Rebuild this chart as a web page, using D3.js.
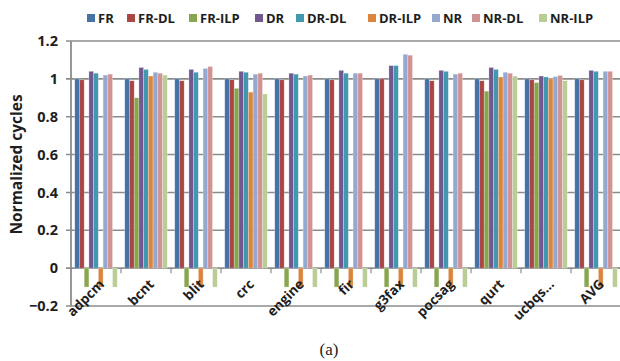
<!DOCTYPE html>
<html lang="en">
<head>
  <meta charset="UTF-8">
  <title>Normalized cycles</title>
  <script src="https://d3js.org/d3.v7.min.js"></script>
  <style>
    html, body { margin: 0; padding: 0; background: #fff; }
    svg { display: block; }
    .lbl { font-family: "Open Sans", Lato, sans-serif; font-weight: bold; fill: #1e1e1e; }
    .grid line { stroke: #8c8c8c; stroke-width: 1.6; }
  </style>
</head>
<body>
  <svg id="chart" width="620" height="361"></svg>
  <script>
    // ---- data ----
    const categories = ["adpcm", "bcnt", "blit", "crc", "engine", "fir", "g3fax", "pocsag", "qurt", "ucbqs...", "AVG"];
    const seriesNames = ["FR", "FR-DL", "FR-ILP", "DR", "DR-DL", "DR-ILP", "NR", "NR-DL", "NR-ILP"];
    const colors = ["#4572a7", "#aa4643", "#89a54e", "#71588f", "#4198af", "#db843d", "#93a9cf", "#d19392", "#b9cd96"];

    const FR     = [1.0, 1.0, 1.0, 1.0, 1.0, 1.0, 1.0, 1.0, 1.0, 1.0, 1.0];
    const FR_DL  = [0.995, 0.99, 0.99, 0.995, 0.995, 0.995, 1.0, 0.99, 0.99, 0.995, 0.995];
    const FR_ILP = [-0.1, 0.90, -0.1, 0.95, -0.1, -0.1, -0.1, -0.1, 0.935, 0.98, -0.1];
    const DR     = [1.04, 1.06, 1.05, 1.04, 1.03, 1.045, 1.07, 1.045, 1.06, 1.015, 1.045];
    const DR_DL  = [1.03, 1.05, 1.035, 1.035, 1.025, 1.03, 1.07, 1.04, 1.05, 1.01, 1.04];
    const DR_ILP = [-0.1, 1.015, -0.1, 0.93, -0.1, -0.1, -0.1, -0.1, 1.01, 1.0, -0.1];
    const NR     = [1.02, 1.035, 1.055, 1.025, 1.015, 1.03, 1.13, 1.025, 1.035, 1.012, 1.04];
    const NR_DL  = [1.025, 1.03, 1.065, 1.03, 1.02, 1.03, 1.125, 1.03, 1.03, 1.018, 1.04];
    const NR_ILP = [-0.1, 1.02, -0.1, 0.92, -0.1, -0.1, -0.1, -0.1, 1.015, 0.99, -0.1];

    const seriesValues = [FR, FR_DL, FR_ILP, DR, DR_DL, DR_ILP, NR, NR_DL, NR_ILP];
    const yTicks = [-0.2, 0, 0.2, 0.4, 0.6, 0.8, 1, 1.2];

    // ---- scales ----
    const plot = { left: 71, right: 621, top: 41, bottom: 306 };
    const svg = d3.select("#chart");

    const x0 = d3.scaleBand().domain(categories)
      .range([plot.left, plot.right]).paddingInner(0.15).paddingOuter(0.075);
    const xCat = d3.scaleBand().domain(categories).range([plot.left, plot.right]);
    const x1 = d3.scaleBand().domain(seriesNames).range([0, x0.bandwidth()]);
    const y = d3.scaleLinear().domain([-0.2, 1.2]).range([plot.bottom, plot.top]);

    // gridlines
    svg.append("g").attr("class", "grid")
      .selectAll("line").data(yTicks).enter().append("line")
      .attr("x1", plot.left - 5).attr("x2", plot.right)
      .attr("y1", d => y(d)).attr("y2", d => y(d));

    // y axis line
    svg.append("line")
      .attr("x1", plot.left).attr("x2", plot.left)
      .attr("y1", plot.top).attr("y2", plot.bottom)
      .attr("stroke", "#8c8c8c").attr("stroke-width", 1.8);

    // category tick marks on the zero line
    svg.append("g").selectAll("line")
      .data(categories.slice(1)).enter().append("line")
      .attr("x1", d => xCat(d)).attr("x2", d => xCat(d))
      .attr("y1", y(0)).attr("y2", y(0) + 5)
      .attr("stroke", "#8c8c8c").attr("stroke-width", 1.2);

    // bars
    const groups = svg.append("g").selectAll("g")
      .data(categories).enter().append("g")
      .attr("transform", d => `translate(${x0(d)},0)`);

    groups.selectAll("rect")
      .data((c, ci) => seriesNames.map((s, si) => ({ s, si, v: seriesValues[si][ci] })))
      .enter().append("rect")
      .attr("x", d => x1(d.s))
      .attr("width", x1.bandwidth())
      .attr("y", d => y(Math.max(0, d.v)))
      .attr("height", d => Math.abs(y(d.v) - y(0)))
      .attr("fill", d => colors[d.si])
      .attr("stroke", "rgba(255,255,255,0.45)")
      .attr("stroke-width", 0.6);

    // y tick labels
    svg.append("g").selectAll("text")
      .data(yTicks).enter().append("text")
      .attr("class", "lbl")
      .attr("x", 58).attr("y", d => y(d))
      .attr("dy", "0.35em")
      .attr("text-anchor", "end")
      .attr("font-size", 14.5)
      .text(d => d3.format("")(d));

    // y axis title
    svg.append("text")
      .attr("class", "lbl")
      .attr("transform", `translate(22,${(plot.top + plot.bottom) / 2 - 9}) rotate(-90)`)
      .attr("text-anchor", "middle")
      .attr("font-size", 15.5)
      .text("Normalized cycles");

    // x category labels, rotated
    svg.append("g").selectAll("text")
      .data(categories).enter().append("text")
      .attr("class", "lbl")
      .attr("font-size", 13.5)
      .attr("text-anchor", "end")
      .attr("transform", d => `translate(${xCat(d) + xCat.bandwidth() / 2 + 9},${y(0) + 17}) rotate(-45)`)
      .text(d => d);

    // legend
    const legendX = [87, 127, 189, 255, 296, 368, 432, 472, 539];
    const legend = svg.append("g").selectAll("g")
      .data(seriesNames).enter().append("g")
      .attr("transform", (d, i) => `translate(${legendX[i]},18)`);
    legend.append("rect")
      .attr("x", 0).attr("y", -4).attr("width", 8).attr("height", 8)
      .attr("fill", (d, i) => colors[i]);
    legend.append("text")
      .attr("class", "lbl")
      .attr("x", 11).attr("dy", "0.35em")
      .attr("font-size", 13)
      .text(d => d);

    // caption
    svg.append("text")
      .attr("x", 329).attr("y", 355)
      .attr("text-anchor", "middle")
      .attr("font-family", "Liberation Serif, DejaVu Serif, serif")
      .attr("font-size", 17)
      .attr("fill", "#222")
      .text("(a)");
  </script>
</body>
</html>
